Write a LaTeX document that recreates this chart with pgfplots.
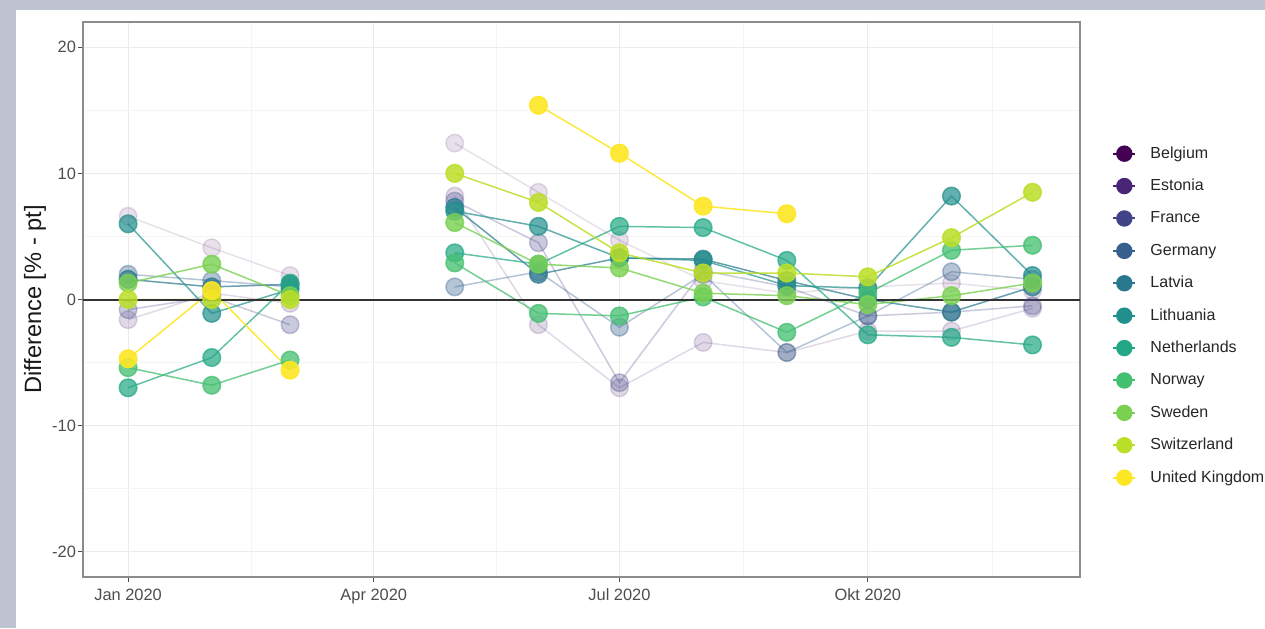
\documentclass[border=0pt]{standalone}
\usepackage{fontspec}
\setmainfont{Liberation Sans}
\usepackage{pgfplots}
\pgfplotsset{compat=1.18}
\definecolor{bgc}{HTML}{BFC3D0}
\definecolor{cBE}{HTML}{440154}
\definecolor{cEE}{HTML}{482576}
\definecolor{cFR}{HTML}{414487}
\definecolor{cDE}{HTML}{35608D}
\definecolor{cLV}{HTML}{2A788E}
\definecolor{cLT}{HTML}{21908C}
\definecolor{cNL}{HTML}{22A884}
\definecolor{cNO}{HTML}{43BF71}
\definecolor{cSE}{HTML}{7AD151}
\definecolor{cCH}{HTML}{BBDF27}
\definecolor{cUK}{HTML}{FDE725}
\definecolor{gridc}{HTML}{EBEBEB}
\definecolor{mgridc}{HTML}{F4F4F4}
\definecolor{framec}{HTML}{8C8C8C}
\definecolor{tickc}{HTML}{4D4D4D}
\begin{document}
\begin{tikzpicture}
\fill[bgc] (0,0) rectangle (632.5pt,314pt);
\fill[white] (8pt,0) rectangle (632.5pt,309pt);
\useasboundingbox (0,0) rectangle (632.5pt,314pt);
\begin{axis}[
  at={(41.5pt,25.5pt)}, anchor=south west,
  scale only axis, width=498.5pt, height=277.5pt,
  xmin=-16.7, xmax=352.6, ymin=-22, ymax=22,
  unbounded coords=jump,
  xtick={0,91,182,274},
  xticklabels={Jan 2020,Apr 2020,Jul 2020,Okt 2020},
  ytick={-20,-10,0,10,20},
  yticklabels={-20,-10,0,10,20},
  minor xtick={45.5,136.5,228,320},
  minor ytick={-15,-5,5,15},
  grid=both,
  major grid style={gridc, line width=0.5pt},
  minor grid style={mgridc, line width=0.3pt},
  minor tick length=0pt,
  major tick length=2.5pt,
  tick align=outside,
  tick pos=left,
  tick style={tickc, line width=0.5pt},
  axis line style={framec, line width=0.8pt},
  tick label style={font=\fontsize{8.2}{9}\selectfont, text=tickc},
  yticklabel style={xshift=2.5pt},
  ylabel={Difference [\% - pt]},
  ylabel style={at={(axis description cs:-0.048,0.5)}, anchor=center, rotate=0, font=\fontsize{11.8}{13}\selectfont, text=black!90},
  legend cell align=left,
  legend style={at={(axis description cs:1.026,0.788)}, anchor=north west, draw=none, fill=none,
    font=\fontsize{8}{9}\selectfont, text=black!85,
    nodes={inner sep=1pt, text height=6pt, text depth=1.6pt}, row sep=6.6pt, column sep=3.2pt},
  legend image code/.code={
    \draw[#1, opacity=1, line width=1pt, mark size=3.6pt, mark repeat=2, mark phase=2]
      plot coordinates {(0pt,0pt) (5.5pt,0pt) (11pt,0pt)};
    \path (14pt,0pt);
  },
  every axis plot/.append style={line width=0.75pt, mark=*, mark size=4.4pt, mark options={draw=none}},
]
% Jan=0 Feb=31 Mar=60 Apr=91 May=121 Jun=152 Jul=182 Aug=213 Sep=244 Oct=274 Nov=305 Dec=335
\addplot[cBE, opacity=0.12, mark options={fill=cBE}] coordinates {
 (0,6.6) (31,4.1) (60,1.9) (91,nan) (121,12.4) (152,8.5) (182,4.7) (213,1.5) (244,0.5) (274,1.0) (305,1.3) (335,0.7)};
\addlegendentry{Belgium}
\addplot[cEE, opacity=0.17, mark options={fill=cEE}] coordinates {
 (0,-1.6) (31,0.5) (60,-0.3) (91,nan) (121,8.2) (152,-2.0) (182,-7.0) (213,-3.4) (244,-4.2) (274,-2.5) (305,-2.5) (335,-0.7)};
\addlegendentry{Estonia}
\addplot[cFR, opacity=0.28, mark options={fill=cFR}] coordinates {
 (0,-0.8) (31,0.2) (60,-2.0) (91,nan) (121,7.8) (152,4.5) (182,-6.6) (213,2.3) (244,1.0) (274,-1.3) (305,-1.0) (335,-0.5)};
\addlegendentry{France}
\addplot[cDE, opacity=0.36, mark options={fill=cDE}] coordinates {
 (0,2.0) (31,1.5) (60,1.0) (91,nan) (121,1.0) (152,2.2) (182,-2.2) (213,2.0) (244,-4.2) (274,-1.3) (305,2.2) (335,1.6)};
\addlegendentry{Germany}
\addplot[cLV, opacity=0.7, mark options={fill=cLV}] coordinates {
 (0,1.6) (31,1.0) (60,1.2) (91,nan) (121,7.3) (152,2.0) (182,3.3) (213,3.2) (244,1.5) (274,0.0) (305,-1.0) (335,1.0)};
\addlegendentry{Latvia}
\addplot[cLT, opacity=0.7, mark options={fill=cLT}] coordinates {
 (0,6.0) (31,-1.1) (60,0.8) (91,nan) (121,7.0) (152,5.8) (182,3.3) (213,3.1) (244,1.1) (274,0.9) (305,8.2) (335,1.9)};
\addlegendentry{Lithuania}
\addplot[cNL, opacity=0.7, mark options={fill=cNL}] coordinates {
 (0,-7.0) (31,-4.6) (60,1.3) (91,nan) (121,3.7) (152,2.8) (182,5.8) (213,5.7) (244,3.1) (274,-2.8) (305,-3.0) (335,-3.6)};
\addlegendentry{Netherlands}
\addplot[cNO, opacity=0.75, mark options={fill=cNO}] coordinates {
 (0,-5.4) (31,-6.8) (60,-4.8) (91,nan) (121,2.9) (152,-1.1) (182,-1.3) (213,0.2) (244,-2.6) (274,0.5) (305,3.9) (335,4.3)};
\addlegendentry{Norway}
\addplot[cSE, opacity=0.8, mark options={fill=cSE}] coordinates {
 (0,1.3) (31,2.8) (60,0.3) (91,nan) (121,6.1) (152,2.8) (182,2.5) (213,0.5) (244,0.3) (274,-0.4) (305,0.3) (335,1.3)};
\addlegendentry{Sweden}
\addplot[cCH, opacity=0.85, mark options={fill=cCH}] coordinates {
 (0,0.0) (31,0.0) (60,0.0) (91,nan) (121,10.0) (152,7.7) (182,3.7) (213,2.1) (244,2.1) (274,1.8) (305,4.9) (335,8.5)};
\addlegendentry{Switzerland}
\addplot[cUK, opacity=0.9, mark options={fill=cUK}] coordinates {
 (0,-4.7) (31,0.7) (60,-5.6) (91,nan) (152,15.4) (182,11.6) (213,7.4) (244,6.8)};
\addlegendentry{United Kingdom}
\addplot[black!80, line width=1pt, mark=none, forget plot] coordinates {(-16.7,0) (352.6,0)};
\end{axis}
\end{tikzpicture}
\end{document}
